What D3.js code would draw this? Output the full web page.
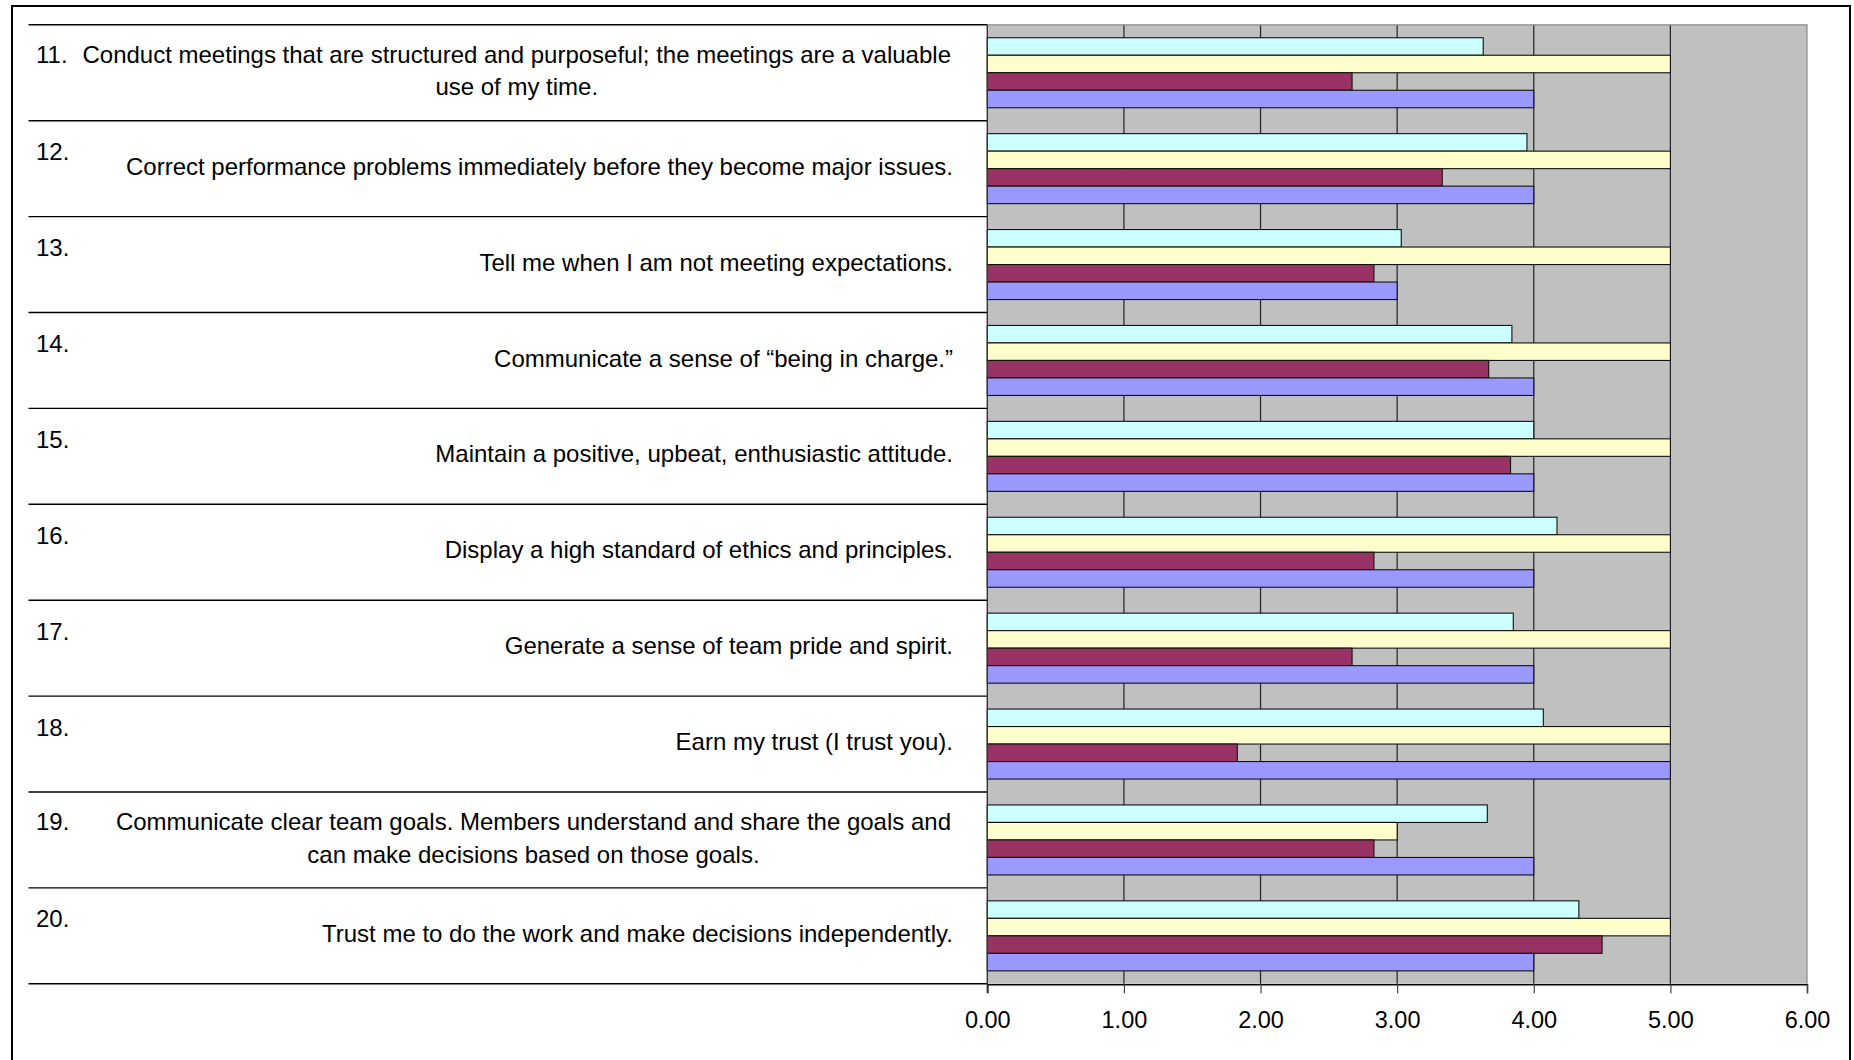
<!DOCTYPE html>
<html>
<head>
<meta charset="utf-8">
<script src="https://cdn.jsdelivr.net/npm/d3@7"></script>
<style>
  html, body { margin: 0; padding: 0; background: #fff; }
  svg { display: block; font-family: "Liberation Sans", Arial, sans-serif; }
</style>
</head>
<body>
<svg id="chart" width="1854" height="1060"></svg>
<script>
// ---- data ----
const categories = ["11.", "12.", "13.", "14.", "15.", "16.", "17.", "18.", "19.", "20."];
const labels = [
  ["Conduct meetings that are structured and purposeful; the meetings are a valuable", "use of my time."],
  ["Correct performance problems immediately before they become major issues."],
  ["Tell me when I am not meeting expectations."],
  ["Communicate a sense of \u201cbeing in charge.\u201d"],
  ["Maintain a positive, upbeat, enthusiastic attitude."],
  ["Display a high standard of ethics and principles."],
  ["Generate a sense of team pride and spirit."],
  ["Earn my trust (I trust you)."],
  ["Communicate clear team goals. Members understand and share the goals and", "can make decisions based on those goals."],
  ["Trust me to do the work and make decisions independently."]
];
const seriesNames = ["Series 4", "Series 3", "Series 2", "Series 1"]; // top-to-bottom within a group
const series4 = [3.63, 3.95, 3.03, 3.84, 4.00, 4.17, 3.85, 4.07, 3.66, 4.33];
const series3 = [5.00, 5.00, 5.00, 5.00, 5.00, 5.00, 5.00, 5.00, 3.00, 5.00];
const series2 = [2.67, 3.33, 2.83, 3.67, 3.83, 2.83, 2.67, 1.83, 2.83, 4.50];
const series1 = [4.00, 4.00, 3.00, 4.00, 4.00, 4.00, 4.00, 5.00, 4.00, 4.00];
const seriesColors = ["#CCFFFF", "#FFFFCC", "#993366", "#9999FF"];
const tickValues = [0, 1, 2, 3, 4, 5, 6];
const tickLabels = ["0.00", "1.00", "2.00", "3.00", "4.00", "5.00", "6.00"];

const seriesValues = [series4, series3, series2, series1];

// ---- layout ----
const svg = d3.select("#chart");
const plot = { left: 987.3, right: 1807, top: 24.8, bottom: 983.8 };
const tableLeft = 28.5;
const labelRight = 953;
const numberX = 36;
const fontSize = 24;

const x = d3.scaleLinear().domain([0, 6]).range([plot.left, plot.right]);
const y = d3.scaleBand().domain(categories).range([plot.top, plot.bottom])
  .paddingInner(0.27).paddingOuter(0.135);
const ySub = d3.scaleBand().domain(seriesNames).range([0, y.bandwidth()]);

// outer frame
svg.append("rect").attr("x", 12).attr("y", 6).attr("width", 1838).attr("height", 1100)
  .attr("fill", "none").attr("stroke", "#000").attr("stroke-width", 2);

// plot background
svg.append("rect").attr("x", plot.left).attr("y", plot.top)
  .attr("width", plot.right - plot.left).attr("height", plot.bottom - plot.top)
  .attr("fill", "#C0C0C0");

// vertical gridlines
svg.append("g").selectAll("line").data(tickValues.filter(d => d > 0 && d < 6)).join("line")
  .attr("x1", d => x(d)).attr("x2", d => x(d))
  .attr("y1", plot.top).attr("y2", plot.bottom)
  .attr("stroke", "#222").attr("stroke-width", 1.2);

// plot border (top/right)
svg.append("path")
  .attr("d", `M${plot.left},${plot.top}H${plot.right}V${plot.bottom}`)
  .attr("fill", "none").attr("stroke", "#8a8a8a").attr("stroke-width", 1.2);

// bars
const groups = svg.append("g").selectAll("g").data(categories).join("g")
  .attr("transform", d => `translate(0,${y(d)})`);
groups.selectAll("rect").data((c, i) => seriesNames.map((s, k) => ({ s, k, v: seriesValues[k][i] })))
  .join("rect")
  .attr("x", x(0))
  .attr("y", d => ySub(d.s))
  .attr("width", d => x(d.v) - x(0))
  .attr("height", ySub.bandwidth())
  .attr("fill", d => seriesColors[d.k])
  .attr("stroke", "#111").attr("stroke-width", 1.1);

// row separator lines across label table
const rowEdges = categories.map(c => y(c) - y.step() * y.paddingOuter()).concat([plot.bottom]);
svg.append("g").selectAll("line").data(rowEdges).join("line")
  .attr("x1", tableLeft).attr("x2", plot.left)
  .attr("y1", d => d).attr("y2", d => d)
  .attr("stroke", "#000").attr("stroke-width", 1.4);

// left axis line
svg.append("line").attr("x1", plot.left).attr("x2", plot.left)
  .attr("y1", plot.top).attr("y2", plot.bottom + 9)
  .attr("stroke", "#333").attr("stroke-width", 1.4);

// bottom axis
const xAxis = d3.axisBottom(x).tickValues(tickValues)
  .tickFormat((d, i) => tickLabels[i]).tickSize(9).tickPadding(18);
const ax = svg.append("g").attr("transform", `translate(0,${plot.bottom + 0.5})`).call(xAxis);
ax.select(".domain").attr("stroke", "#000").attr("stroke-width", 1.4);
ax.selectAll(".tick line").attr("stroke", "#444").attr("stroke-width", 1.2);
ax.selectAll(".tick text").attr("font-size", 23.5).attr("fill", "#000")
  .attr("font-family", "Liberation Sans, Arial, sans-serif");

// category numbers and labels
categories.forEach((c, i) => {
  const top = rowEdges[i];
  const lines = labels[i];
  svg.append("text").attr("x", numberX).attr("y", top + (lines.length === 1 ? 39.5 : 38.3))
    .attr("font-size", fontSize).attr("fill", "#000").text(c);
  if (lines.length === 1) {
    svg.append("text").attr("x", labelRight).attr("y", top + 54)
      .attr("text-anchor", "end").attr("font-size", fontSize).attr("fill", "#000").text(lines[0]);
  } else {
    const t1 = svg.append("text").attr("x", labelRight - 2).attr("y", top + 38.3)
      .attr("text-anchor", "end").attr("font-size", fontSize).attr("fill", "#000").text(lines[0]);
    const w = t1.node().getComputedTextLength();
    svg.append("text").attr("x", labelRight - 2 - w / 2).attr("y", top + 70.5)
      .attr("text-anchor", "middle").attr("font-size", fontSize).attr("fill", "#000").text(lines[1]);
  }
});
</script>
</body>
</html>
